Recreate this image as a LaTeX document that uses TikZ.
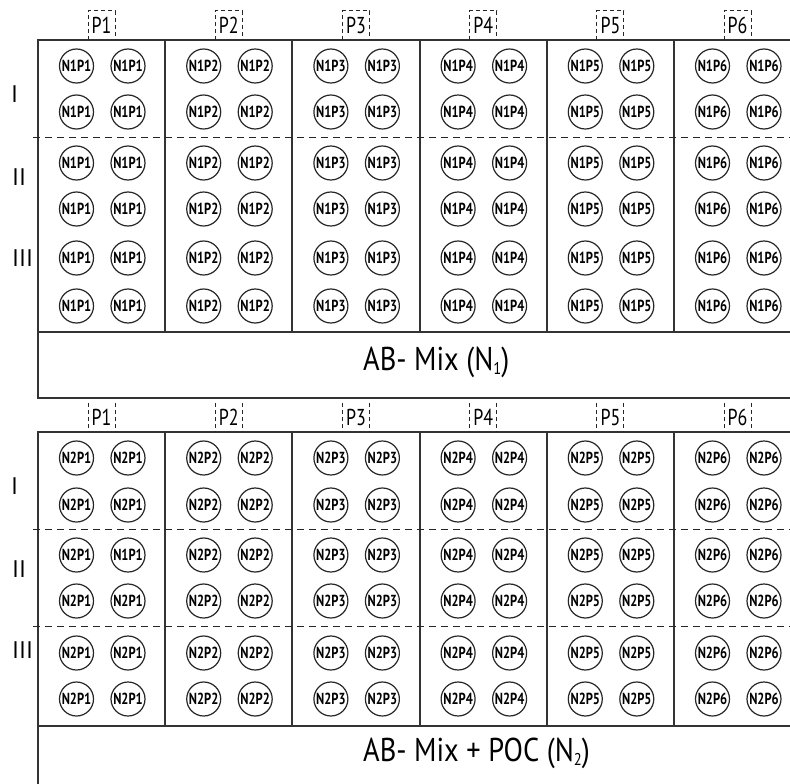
\documentclass[tikz,border=0pt]{standalone}
\usepackage{graphicx}
\usepackage{fontspec}
\setmainfont{PT Sans}
\newcommand{\subdig}[1]{\raisebox{-0.12em}{\fontsize{17}{17}\selectfont #1}}
\begin{document}
\begin{tikzpicture}[x=1pt,y=-1pt,
  frame/.style={line width=1.4pt, draw=black!80},
  sep/.style={line width=1pt, dash pattern=on 7pt off 5pt, draw=black!85},
  pdash/.style={line width=1pt, dash pattern=on 4pt off 3pt, draw=black!85},
  plant/.style={circle, draw=black!85, line width=1.2pt, minimum size=34pt, inner sep=0pt,
    font=\bfseries\fontsize{16}{16}\selectfont},
  plab/.style={font=\fontsize{23}{23}\selectfont, inner sep=0pt},
  rlab/.style={font=\fontsize{24}{24}\selectfont, inner sep=0pt, anchor=west},
  big/.style={font=\fontsize{33}{33}\selectfont, inner sep=0pt, anchor=west}]
\useasboundingbox (0,0) rectangle (790,784);

% ---------- top panel ----------
\draw[frame] (801,40) -- (38,40) -- (38,398) -- (801,398);
\draw[frame] (38,332) -- (801,332);
\foreach \x in {165,292,420,547,674} \draw[frame] (\x,40) -- (\x,332);
\draw[sep] (33,137) -- (790,137);

% ---------- bottom panel ----------
\draw[frame] (801,432) -- (38,432) -- (38,790);
\draw[frame] (38,726) -- (801,726);
\foreach \x in {165,292,420,547,674} \draw[frame] (\x,432) -- (\x,726);
\draw[sep] (33,529) -- (790,529);
\draw[sep] (33,626) -- (790,626);

% ---------- P labels ----------
\foreach \k in {1,...,6}{
  \pgfmathsetmacro{\cx}{38+127.2*(\k-0.5)}
  \node[plab] (pt\k) at (\cx,25) {\scalebox{0.78}[1]{P\k}};
  \draw[pdash] (\cx-13.5,40) -- (\cx-13.5,11) -- (\cx+13.5,11) -- (\cx+13.5,40);
  \node[plab] (pb\k) at (\cx,417) {\scalebox{0.78}[1]{P\k}};
  \draw[pdash] (\cx-13.5,403) -- (\cx-13.5,432);
  \draw[pdash] (\cx+13.5,403) -- (\cx+13.5,432);
}

% ---------- plants ----------
\foreach \y [count=\r] in {66,112,163,209,258,306}{
  \foreach \k in {1,...,6}{
    \pgfmathsetmacro{\xa}{38+127.2*(\k-1)+38.5}
    \pgfmathsetmacro{\xb}{38+127.2*(\k-1)+90}
    \node[plant] (t-\r-\k-a) at (\xa,\y) {\scalebox{0.78}[1]{N1P\k}};
    \node[plant] (t-\r-\k-b) at (\xb,\y) {\scalebox{0.78}[1]{N1P\k}};
  }
}
\foreach \y [count=\r] in {458,505,555,601,653,699}{
  \foreach \k in {1,...,6}{
    \pgfmathsetmacro{\xa}{38+127.2*(\k-1)+38.5}
    \pgfmathsetmacro{\xb}{38+127.2*(\k-1)+90}
    \node[plant] (b-\r-\k-a) at (\xa,\y) {\scalebox{0.78}[1]{N2P\k}};
    \ifnum\r=3 \ifnum\k=1
      \node[plant] (b-\r-\k-b) at (\xb,\y) {\scalebox{0.78}[1]{N1P1}};
    \else
      \node[plant] (b-\r-\k-b) at (\xb,\y) {\scalebox{0.78}[1]{N2P\k}};
    \fi\else
      \node[plant] (b-\r-\k-b) at (\xb,\y) {\scalebox{0.78}[1]{N2P\k}};
    \fi
  }
}

% ---------- row labels ----------
\node[rlab] (rt1) at (11,94) {I};
\node[rlab] (rt2) at (12,177) {II};
\node[rlab] (rt3) at (12,258) {III};
\node[rlab] (rb1) at (11,486) {I};
\node[rlab] (rb2) at (12,569) {II};
\node[rlab] (rb3) at (12,650) {III};

% ---------- treatment labels ----------
\node[big] (lab1) at (363,362) {\scalebox{0.86}[1]{AB- Mix (N\subdig{1})}};
\node[big] (lab2) at (363,753) {\scalebox{0.86}[1]{AB- Mix + POC (N\subdig{2})}};
\end{tikzpicture}
\end{document}
